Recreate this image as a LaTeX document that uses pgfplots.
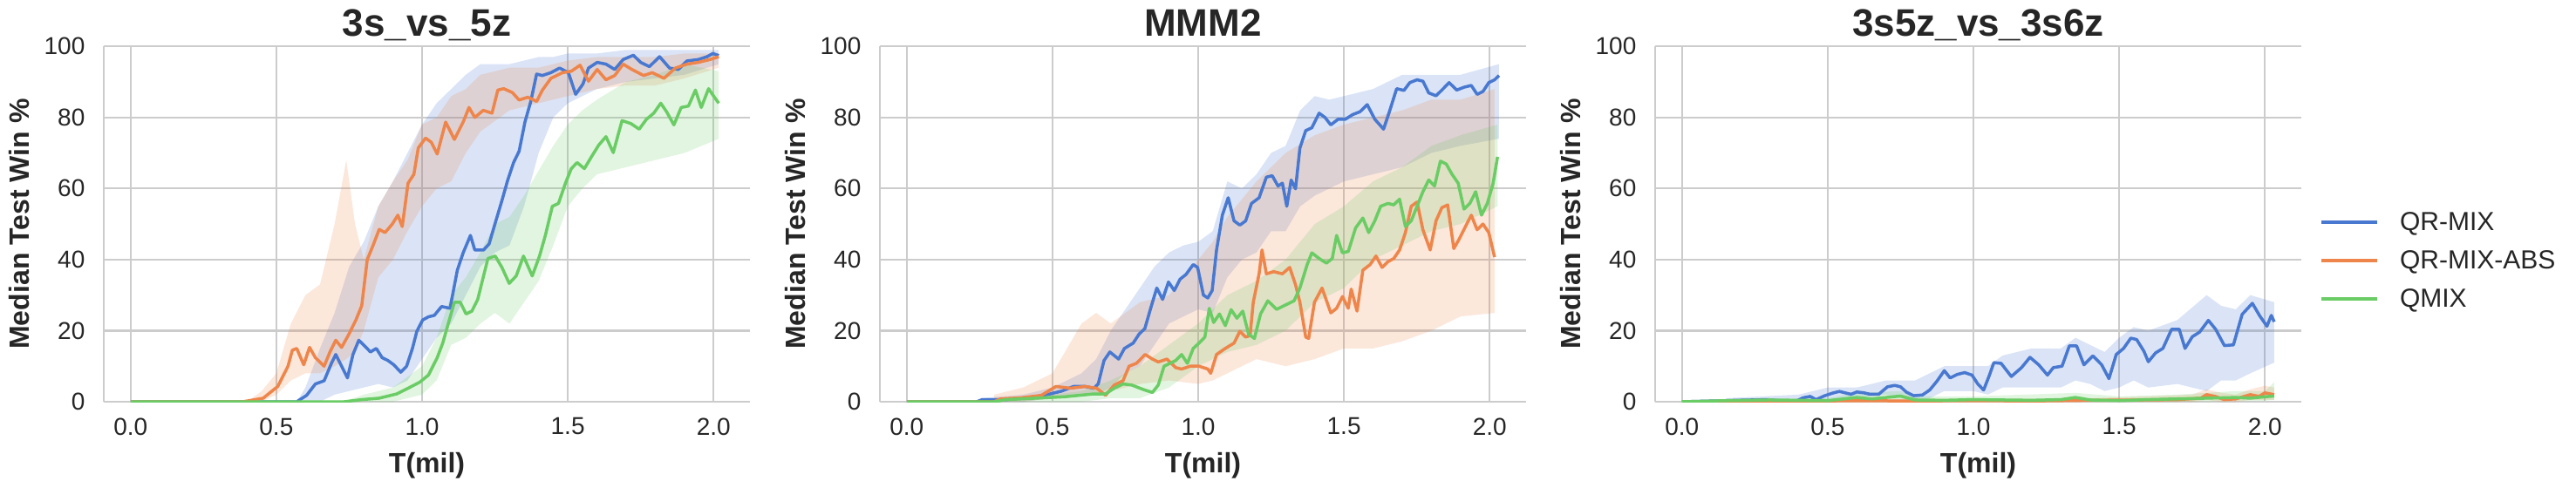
\documentclass[border=0pt]{standalone}
\usepackage{fontspec}
\setmainfont{Liberation Sans}
\usepackage{pgfplots}
\usepackage{pgfplotstable}
\pgfplotsset{compat=1.18}
\usepgfplotslibrary{fillbetween}

\definecolor{cblue}{HTML}{4878D0}
\definecolor{corange}{HTML}{EE854A}
\definecolor{cgreen}{HTML}{6ACC64}
\definecolor{gridc}{HTML}{CCCCCC}
\definecolor{txt}{HTML}{262626}

% ---------------- Panel 1: 3s_vs_5z ----------------
\pgfplotstableread{
T y
0 0
0.4 0
0.57 0
0.604 1.8
0.634 5
0.664 5.9
0.689 10.8
0.704 13.3
0.724 10
0.744 6.7
0.763 13.3
0.783 17.3
0.803 15.7
0.823 14
0.843 15
0.863 12.4
0.883 11.6
0.903 10.4
0.927 8.3
0.947 10
0.967 15
0.982 19.8
1.002 23
1.022 23.9
1.042 24.3
1.067 26.8
1.096 26.3
1.121 37
1.141 41.9
1.166 46.8
1.181 42.7
1.211 42.7
1.23 44.4
1.25 50
1.274 56.6
1.294 62.4
1.314 67.3
1.333 70.5
1.353 78.7
1.373 84.5
1.393 92.2
1.413 91.8
1.442 92.6
1.472 93.9
1.502 92.6
1.527 86.5
1.552 89.4
1.571 93.9
1.601 95.5
1.631 95
1.661 93.5
1.69 96.3
1.725 97.5
1.75 95.5
1.78 94.3
1.815 97.1
1.849 93.9
1.879 93.5
1.909 95.9
1.948 96.3
1.978 97.1
1.998 98
2.018 97.4
}\AqrL
\pgfplotstableread{
T y
0 0
0.385 0
0.455 1
0.485 3
0.505 4.3
0.54 10
0.555 14.5
0.57 15
0.594 10.4
0.614 15.3
0.634 12.4
0.664 10
0.684 14
0.704 17.3
0.724 15.3
0.749 19
0.773 23
0.793 27
0.812 40
0.832 44
0.853 48.5
0.873 47.6
0.898 50
0.917 52.5
0.932 49.3
0.952 61.5
0.972 64
0.987 71.4
1.012 74.2
1.032 73
1.052 69.7
1.081 78.7
1.111 73.8
1.141 78.7
1.161 82.8
1.181 80
1.21 82
1.24 81.2
1.26 87.7
1.28 88.1
1.31 87
1.333 84.9
1.363 85.7
1.393 84.5
1.413 87.7
1.442 91
1.482 92.6
1.512 93
1.542 94.7
1.571 90.2
1.601 93.5
1.631 90.6
1.661 91.8
1.69 95
1.72 93.5
1.76 91.8
1.79 92.6
1.83 91
1.869 93.9
1.909 95
1.948 95.5
1.988 96.3
2.018 97.1
}\AabsL
\pgfplotstableread{
T y
0 0
0.733 0
0.793 0.6
0.853 1
0.883 1.6
0.913 2.2
0.952 3.8
0.992 5.5
1.022 7.5
1.052 12.4
1.071 16.5
1.091 22.3
1.111 28
1.131 28
1.151 24.7
1.171 25.5
1.191 28.8
1.211 35.4
1.226 40.3
1.251 41
1.274 37.8
1.299 33.3
1.323 35.4
1.348 41
1.378 35.4
1.403 41
1.423 46.8
1.447 55
1.468 55.8
1.492 61.5
1.512 65.6
1.532 67.3
1.557 65.6
1.581 68.9
1.606 72.2
1.631 74.6
1.656 70.1
1.686 79.1
1.716 78.3
1.745 76.7
1.77 79.5
1.795 81.2
1.819 84
1.839 81.6
1.864 77.9
1.889 82.8
1.914 83.2
1.938 87.7
1.958 82.8
1.983 88.1
2.003 85.7
2.018 84
}\AqmL
\pgfplotstableread{
T hi lo
0.57 0 0
0.6 4 0
0.65 15 0
0.7 25 2
0.75 38 3
0.8 45 4
0.85 55 5
0.9 62 4
0.95 70 6
1.0 78 12
1.05 84 18
1.1 88 22
1.15 92 30
1.2 95 38
1.25 95 42
1.3 95 44
1.35 96 55
1.4 97 70
1.45 97 80
1.5 98 84
1.6 98 88
1.7 99 90
1.8 99 91
1.9 99 92
2.018 99 95
}\AqrB
\pgfplotstableread{
T hi lo
0.4 0 0
0.45 3 0
0.5 8 2
0.55 22 6
0.6 30 8
0.65 33 8
0.7 50 10
0.74 68 12
0.77 50 14
0.8 40 20
0.85 55 35
0.9 62 40
0.95 68 48
1.0 78 55
1.05 80 60
1.1 86 62
1.15 88 70
1.2 92 76
1.3 94 82
1.4 94 84
1.5 96 86
1.6 97 88
1.7 97 89
1.8 97 89
1.9 98 91
2.018 98 94
}\AabsB
\pgfplotstableread{
T hi lo
0.73 0 0
0.8 2 0
0.9 4 0
1.0 10 2
1.05 18 6
1.1 30 16
1.15 35 18
1.2 42 22
1.25 50 25
1.3 52 22
1.35 58 28
1.4 65 34
1.45 72 44
1.5 78 55
1.55 82 60
1.6 85 64
1.7 90 66
1.8 92 68
1.9 95 70
2.018 93 74
}\AqmB

% ---------------- Panel 2: MMM2 ----------------
\pgfplotstableread{
T y
0 0
0.24 0
0.26 0.6
0.342 0.6
0.442 1.4
0.492 2.2
0.532 3
0.572 4.3
0.612 4.3
0.642 3.8
0.657 5
0.677 11.6
0.697 14
0.727 12
0.747 15
0.777 16.5
0.797 19
0.817 20.6
0.837 26.3
0.858 32
0.878 28.8
0.898 33.7
0.918 31.3
0.938 34.5
0.958 35.8
0.983 38.6
0.998 37.8
1.018 30
1.033 29.2
1.048 31.3
1.063 42.7
1.083 52.5
1.103 57.4
1.123 50.9
1.143 49.7
1.163 50.9
1.183 55.8
1.209 57.4
1.234 63.2
1.254 63.6
1.274 60.7
1.289 61.5
1.304 55
1.319 62.4
1.334 59.9
1.349 71.4
1.369 76.3
1.39 77.1
1.415 81.2
1.435 80
1.455 77.9
1.48 79.5
1.505 79.5
1.53 80.8
1.555 81.6
1.58 83.6
1.606 79.5
1.636 76.7
1.656 81.6
1.681 88.1
1.706 87.6
1.726 89.8
1.751 90.6
1.771 90.2
1.791 86.9
1.816 86.1
1.836 87.7
1.861 89.8
1.887 87.7
1.912 88.5
1.937 89
1.957 86.5
1.977 87.3
1.997 89.8
2.017 90.6
2.032 91.8
}\BqrL
\pgfplotstableread{
T y
0 0
0.3 0
0.322 0.8
0.392 1.1
0.462 1.8
0.512 4.3
0.562 3.8
0.612 4.3
0.652 3.8
0.682 1.8
0.712 4.7
0.742 5.9
0.763 10
0.788 10.8
0.818 13.3
0.843 12
0.863 11.2
0.893 12
0.923 9.6
0.943 9.2
0.973 10
1.003 10
1.033 9.2
1.043 8
1.063 13.3
1.093 15
1.123 16.5
1.143 19.8
1.163 18.2
1.178 18.6
1.189 28
1.209 36
1.219 42.7
1.234 36
1.259 36.6
1.289 36
1.314 37.8
1.334 32.9
1.349 28
1.369 18.2
1.379 17.8
1.399 28
1.425 32
1.455 25
1.475 26.3
1.495 29.6
1.515 26.3
1.525 31.7
1.545 25.5
1.565 37
1.59 38.6
1.61 41
1.631 37.8
1.651 39.4
1.671 40.3
1.691 42.7
1.711 47.6
1.731 55
1.751 56.2
1.771 48.4
1.796 42.7
1.816 50.9
1.836 54.6
1.856 55.4
1.877 43.1
1.897 46
1.917 49.3
1.937 52.5
1.957 48.4
1.977 50
1.997 47.6
2.017 40.7
}\BabsL
\pgfplotstableread{
T y
0 0
0.3 0
0.342 0.6
0.442 1
0.542 1.4
0.592 1.8
0.642 2.2
0.682 2.2
0.712 3.8
0.742 5
0.772 4.7
0.813 3.4
0.843 2.6
0.863 4.7
0.883 10
0.903 10.8
0.923 11.6
0.943 13.3
0.963 10.8
0.983 15
1.003 16.5
1.023 18.2
1.038 26.3
1.053 22.3
1.073 24.7
1.093 21.4
1.113 25.9
1.133 23.5
1.153 25.5
1.173 19
1.193 17.8
1.214 24.7
1.239 28.4
1.269 26
1.299 27.2
1.329 28.4
1.349 32
1.374 38.6
1.39 41.9
1.415 40.3
1.44 39
1.46 40.3
1.475 46.8
1.495 41.9
1.515 42.3
1.54 48.9
1.565 51.7
1.585 47.6
1.606 50.9
1.626 55
1.651 55.8
1.671 55.4
1.691 57
1.711 49.3
1.731 50.9
1.751 55
1.771 59.1
1.791 62.4
1.811 60.7
1.831 67.7
1.851 66.9
1.871 64
1.892 61.5
1.912 54.2
1.932 55.8
1.952 59.1
1.972 52.5
1.992 55.8
2.012 61.5
2.027 68.9
}\BqmL
\pgfplotstableread{
T hi lo
0.25 1 0
0.4 2 0
0.5 4 1
0.6 8 2
0.65 12 2
0.7 20 4
0.75 26 8
0.8 32 10
0.85 38 16
0.9 42 22
0.95 44 24
1.0 45 26
1.05 48 25
1.1 62 35
1.15 60 40
1.2 64 42
1.25 70 48
1.3 72 48
1.35 82 55
1.4 86 58
1.45 85 60
1.5 86 62
1.55 87 63
1.6 88 64
1.7 92 66
1.8 92 70
1.9 92 72
2.032 95 74
}\BqrB
\pgfplotstableread{
T hi lo
0.3 2 0
0.4 4 0
0.5 8 1
0.6 22 2
0.65 25 2
0.7 22 3
0.8 28 5
0.9 30 6
1.0 40 5
1.05 45 6
1.1 52 8
1.2 62 12
1.3 70 10
1.4 75 12
1.5 78 15
1.6 80 15
1.7 82 17
1.8 85 20
1.9 85 24
2.017 88 25
}\BabsB
\pgfplotstableread{
T hi lo
0.3 1 0
0.5 2 0
0.6 3 0
0.7 6 1
0.8 10 1
0.9 16 4
1.0 22 10
1.1 30 14
1.2 34 16
1.3 40 20
1.4 50 28
1.5 55 32
1.6 62 40
1.7 66 44
1.8 72 48
1.9 75 50
2.027 78 55
}\BqmB

% ---------------- Panel 3: 3s5z_vs_3s6z ----------------
\pgfplotstableread{
T y
0 0
0.15 0.3
0.185 0.4
0.295 0.6
0.345 0.2
0.395 0.3
0.415 1.1
0.44 1.5
0.46 0.6
0.49 1.7
0.52 2.5
0.54 2.9
0.56 2.5
0.58 2.1
0.6 2.75
0.625 2.5
0.645 2.1
0.675 2.1
0.705 4.2
0.73 4.6
0.75 4.2
0.77 2.7
0.795 1.7
0.825 1.9
0.85 3.3
0.875 5.8
0.9 8.75
0.92 6.7
0.945 7.7
0.97 8.2
0.995 7.5
1.015 5
1.035 3.3
1.055 7.5
1.07 11
1.095 10.8
1.13 7.1
1.165 9.6
1.194 12.5
1.224 10.4
1.254 7.5
1.274 9.6
1.304 10
1.329 15.7
1.354 15.7
1.379 10.4
1.41 12.9
1.44 10.4
1.465 6.5
1.49 13.3
1.515 15
1.54 17.9
1.56 17.5
1.585 14.2
1.6 11.25
1.625 13.75
1.65 15
1.68 20.4
1.706 20.4
1.726 15
1.751 18.3
1.776 19.6
1.806 22.9
1.831 20.4
1.861 15.8
1.892 16
1.922 24.6
1.957 27.7
1.982 24.2
2.007 21.25
2.022 24.3
2.032 22.5
}\CqrL
\pgfplotstableread{
T y
0 0
0.2 0
0.6 0.3
0.8 0.2
1.0 0.3
1.2 0.2
1.4 0.4
1.6 0.5
1.7 0.6
1.78 1.0
1.8 2.0
1.83 1.5
1.86 0.6
1.9 0.8
1.95 2.0
1.98 1.5
2.0 2.5
2.032 2.0
}\CabsL
\pgfplotstableread{
T y
0 0
0.15 0.3
0.3 0.5
0.5 0.3
0.6 1.2
0.65 0.8
0.75 1.6
0.8 0.5
0.9 0.4
1.0 0.6
1.1 0.5
1.2 0.4
1.3 0.6
1.35 1.2
1.4 0.5
1.5 0.3
1.6 0.6
1.7 0.8
1.8 1.0
1.9 1.2
1.95 1.0
2.0 1.4
2.032 1.6
}\CqmL
\pgfplotstableread{
T hi lo
0.15 1 0
0.4 2 0
0.5 4 0
0.6 4 1
0.7 6 2
0.8 6 0
0.85 8 1
0.9 10 3
1.0 10 3
1.05 10 2
1.1 13 4
1.2 15 4
1.3 15 4
1.35 18 6
1.4 16 5
1.45 14 3
1.5 18 4
1.55 21 6
1.6 20 4
1.7 23 5
1.8 30 3
1.85 27 6
1.9 26 6
1.95 30 8
2.032 28 11
}\CqrB
\pgfplotstableread{
T hi lo
0.2 0.5 0
0.6 0.8 0
1.0 0.8 0
1.4 1 0
1.6 1.5 0
1.75 2 0
1.8 3.5 0.5
1.85 2.5 0
1.9 2 0
1.95 3.5 0.5
2.0 4.5 0.5
2.032 4 0.5
}\CabsB
\pgfplotstableread{
T hi lo
0.15 0.6 0
0.5 1 0
0.6 2.5 0
0.75 3 0
0.8 1.5 0
1.0 1.5 0
1.35 2.5 0
1.5 1.5 0
1.7 2 0
1.9 3 0.2
2.0 3 0.3
2.032 5.5 0.5
}\CqmB

\pgfplotsset{
  panel/.style={
    scale only axis, width=370.5pt, height=203.9pt, anchor=south west,
    xmin=-0.092, xmax=2.125, ymin=0, ymax=100,
    xtick={0,0.5,1,1.5,2}, xticklabels={0.0,0.5,1.0,1.5,2.0},
    ytick={0,20,40,60,80,100}, yticklabels={0,20,40,60,80,100},
    grid=major, major grid style={draw=gridc, line width=1.1pt},
    axis x line*=bottom, axis y line*=left,
    axis line style={-, draw=gridc, line width=1.2pt},
    major tick length=0pt,
    tick label style={font=\fontsize{14}{16}\selectfont, text=txt},
    xticklabel style={yshift=-5.8pt},
    yticklabel style={xshift=-7.3pt},
    xlabel={T(mil)}, ylabel={Median Test Win \%},
    every axis x label/.style={at={(axis description cs:0.5,0)}, anchor=center, yshift=-36.5pt,
      font=\bfseries\fontsize{16}{19}\selectfont, text=txt},
    every axis y label/.style={at={(axis description cs:-0.131,0.5)}, rotate=90, anchor=center,
      font=\bfseries\fontsize{16}{19}\selectfont, text=txt},
    every axis title/.style={at={(axis description cs:0.5,1)}, anchor=base, yshift=5.7pt,
      font=\bfseries\fontsize{22}{26}\selectfont, text=txt},
  },
  ln/.style={draw=#1, line width=1.75pt, line join=round},
}

\begin{document}
\begin{tikzpicture}

\begin{axis}[panel, at={(59.5pt,49pt)}, title={3s\_vs\_5z}]
  \addplot[draw=none, forget plot, name path=aqhi] table[x=T, y=hi] {\AqrB};
  \addplot[draw=none, forget plot, name path=aqlo] table[x=T, y=lo] {\AqrB};
  \addplot[fill=cblue, fill opacity=0.2, draw=none, forget plot] fill between[of=aqhi and aqlo];
  \addplot[draw=none, forget plot, name path=aahi] table[x=T, y=hi] {\AabsB};
  \addplot[draw=none, forget plot, name path=aalo] table[x=T, y=lo] {\AabsB};
  \addplot[fill=corange, fill opacity=0.2, draw=none, forget plot] fill between[of=aahi and aalo];
  \addplot[draw=none, forget plot, name path=amhi] table[x=T, y=hi] {\AqmB};
  \addplot[draw=none, forget plot, name path=amlo] table[x=T, y=lo] {\AqmB};
  \addplot[fill=cgreen, fill opacity=0.2, draw=none, forget plot] fill between[of=amhi and amlo];
  \addplot[ln=cblue] table[x=T, y=y] {\AqrL};
  \addplot[ln=corange] table[x=T, y=y] {\AabsL};
  \addplot[ln=cgreen] table[x=T, y=y] {\AqmL};
\end{axis}

\begin{axis}[panel, at={(504.5pt,49pt)}, title={MMM2}]
  \addplot[draw=none, forget plot, name path=bqhi] table[x=T, y=hi] {\BqrB};
  \addplot[draw=none, forget plot, name path=bqlo] table[x=T, y=lo] {\BqrB};
  \addplot[fill=cblue, fill opacity=0.2, draw=none, forget plot] fill between[of=bqhi and bqlo];
  \addplot[draw=none, forget plot, name path=bahi] table[x=T, y=hi] {\BabsB};
  \addplot[draw=none, forget plot, name path=balo] table[x=T, y=lo] {\BabsB};
  \addplot[fill=corange, fill opacity=0.2, draw=none, forget plot] fill between[of=bahi and balo];
  \addplot[draw=none, forget plot, name path=bmhi] table[x=T, y=hi] {\BqmB};
  \addplot[draw=none, forget plot, name path=bmlo] table[x=T, y=lo] {\BqmB};
  \addplot[fill=cgreen, fill opacity=0.2, draw=none, forget plot] fill between[of=bmhi and bmlo];
  \addplot[ln=cblue] table[x=T, y=y] {\BqrL};
  \addplot[ln=corange] table[x=T, y=y] {\BabsL};
  \addplot[ln=cgreen] table[x=T, y=y] {\BqmL};
\end{axis}

\begin{axis}[panel, at={(949pt,49pt)}, title={3s5z\_vs\_3s6z},
  legend style={at={(axis description cs:1,0.397)}, anchor=west, xshift=10.5pt,
    draw=none, fill=none, inner sep=0pt, outer sep=0pt,
    font=\fontsize{15}{18}\selectfont, text=txt, row sep=10pt,
    /tikz/column sep=12pt, nodes={inner sep=0pt}},
  legend cell align=left,
  legend image code/.code={\draw[#1, line width=2pt] (0pt,0pt) -- (32pt,0pt);}]
  \addplot[draw=none, forget plot, name path=cqhi] table[x=T, y=hi] {\CqrB};
  \addplot[draw=none, forget plot, name path=cqlo] table[x=T, y=lo] {\CqrB};
  \addplot[fill=cblue, fill opacity=0.2, draw=none, forget plot] fill between[of=cqhi and cqlo];
  \addplot[draw=none, forget plot, name path=cahi] table[x=T, y=hi] {\CabsB};
  \addplot[draw=none, forget plot, name path=calo] table[x=T, y=lo] {\CabsB};
  \addplot[fill=corange, fill opacity=0.2, draw=none, forget plot] fill between[of=cahi and calo];
  \addplot[draw=none, forget plot, name path=cmhi] table[x=T, y=hi] {\CqmB};
  \addplot[draw=none, forget plot, name path=cmlo] table[x=T, y=lo] {\CqmB};
  \addplot[fill=cgreen, fill opacity=0.2, draw=none, forget plot] fill between[of=cmhi and cmlo];
  \addplot[ln=cblue] table[x=T, y=y] {\CqrL};
  \addplot[ln=corange] table[x=T, y=y] {\CabsL};
  \addplot[ln=cgreen] table[x=T, y=y] {\CqmL};
  \legend{QR-MIX, QR-MIX-ABS, QMIX}
\end{axis}

\pgfresetboundingbox
\path[use as bounding box] (0,0) rectangle (1477pt,279.5pt);
\end{tikzpicture}
\end{document}
